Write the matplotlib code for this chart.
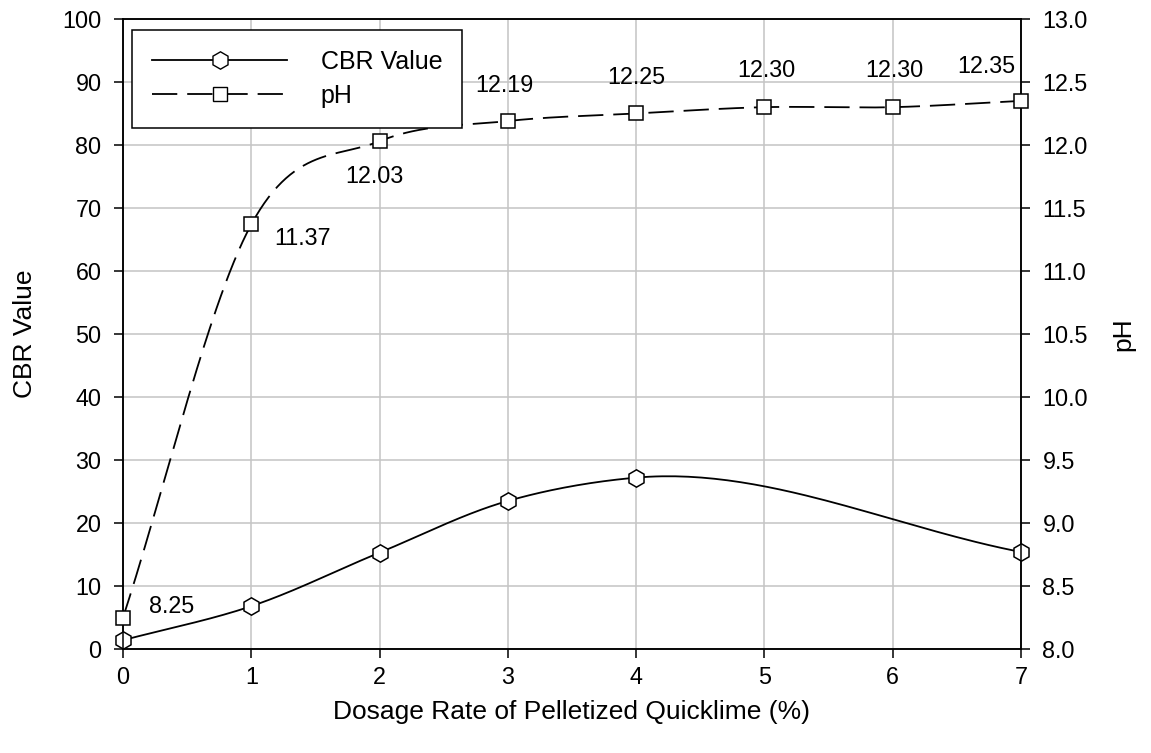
import numpy as np
import matplotlib.pyplot as plt
from matplotlib.lines import Line2D

plt.rcParams['font.family'] = ['Liberation Sans', 'DejaVu Sans']

dosage = [0, 1, 2, 3, 4, 5, 6, 7]
cbr_dosage = [0, 1, 2, 3, 4, 7]
cbr_value = [1.4, 6.8, 15.3, 23.5, 27.2, 15.4]
ph_value = [8.25, 11.37, 12.03, 12.19, 12.25, 12.30, 12.30, 12.35]
ph_text = ["8.25", "11.37", "12.03", "12.19", "12.25", "12.30", "12.30", "12.35"]


def smooth(ax, knot_ax, x, y, n=60):
    # chord-length catmull-rom; knots measured on the primary axis scale
    pts = ax.transData.transform(np.column_stack([x, y]))
    kp = knot_ax.transData.transform(np.column_stack([x, y]))
    p = np.vstack([2 * pts[0] - pts[1], pts, 2 * pts[-1] - pts[-2]])
    k = np.vstack([2 * kp[0] - kp[1], kp, 2 * kp[-1] - kp[-2]])
    knots = np.concatenate([[0], np.cumsum(np.linalg.norm(np.diff(k, axis=0), axis=1))])
    out = []
    for i in range(1, len(p) - 2):
        p0, p1, p2, p3 = p[i - 1], p[i], p[i + 1], p[i + 2]
        t0, t1, t2, t3 = knots[i - 1], knots[i], knots[i + 1], knots[i + 2]
        t = np.linspace(t1, t2, n)[:, None]
        a1 = (t1 - t) / (t1 - t0) * p0 + (t - t0) / (t1 - t0) * p1
        a2 = (t2 - t) / (t2 - t1) * p1 + (t - t1) / (t2 - t1) * p2
        a3 = (t3 - t) / (t3 - t2) * p2 + (t - t2) / (t3 - t2) * p3
        b1 = (t2 - t) / (t2 - t0) * a1 + (t - t0) / (t2 - t0) * a2
        b2 = (t3 - t) / (t3 - t1) * a2 + (t - t1) / (t3 - t1) * a3
        out.append((t2 - t) / (t2 - t1) * b1 + (t - t1) / (t2 - t1) * b2)
    xy = ax.transData.inverted().transform(np.vstack(out))
    return xy[:, 0], xy[:, 1]


fig, ax = plt.subplots(figsize=(11.51, 7.53), dpi=100)
fig.subplots_adjust(left=0.1069, right=0.887, top=0.9748, bottom=0.1381)
ax2 = ax.twinx()

ax.set_xlim(0, 7)
ax.set_ylim(0, 100)
ax2.set_ylim(8, 13)
ax.set_xticks(dosage)
ax.set_yticks(range(0, 101, 10))
ax2.set_yticks(np.arange(8, 13.01, 0.5))
ax2.set_yticklabels([f"{v:.1f}" for v in np.arange(8, 13.01, 0.5)])

ax.set_axisbelow(True)
ax.grid(True, color='#c4c4c4', lw=1.1)

for a in (ax, ax2):
    a.tick_params(direction='out', length=6.5, width=1.1, labelsize=16.8, pad=9)
    for s in a.spines.values():
        s.set_linewidth(1.1)
ax.tick_params(axis='x', pad=6)

sx, sy = smooth(ax, ax, cbr_dosage, cbr_value)
ax.plot(sx, sy, color='black', lw=1.3)
ax.plot(cbr_dosage, cbr_value, linestyle='none', marker='h', ms=12.5,
        mfc='white', mec='black', mew=1.1, clip_on=False, zorder=5)

px, py = smooth(ax2, ax, dosage, ph_value)
ax2.plot(px, py, color='black', lw=1.3, dashes=(14, 5.5))
ax2.plot(dosage, ph_value, linestyle='none', marker='s', ms=10,
         mfc='white', mec='black', mew=1.1, clip_on=False, zorder=5)

offsets = [(26, 11, 'left'), (23, -14, 'left'), (-5, -35, 'center'),
           (-3, 36, 'center'), (0, 36, 'center'), (2, 37, 'center'),
           (2, 37, 'center'), (-35, 34, 'center')]
for xv, yv, txt, (dx, dy, ha) in zip(dosage, ph_value, ph_text, offsets):
    ax2.annotate(txt, (xv, yv), xytext=(dx, dy), textcoords='offset pixels',
                 ha=ha, va='center', fontsize=16.8)

ax.set_xlabel('Dosage Rate of Pelletized Quicklime (%)', fontsize=19, labelpad=8)
ax.set_ylabel('CBR Value', fontsize=19, labelpad=18)
ax2.set_ylabel('pH', fontsize=19, labelpad=17)

handles = [
    Line2D([], [], color='black', lw=1.3, marker='h', ms=12.5, mfc='white', mec='black'),
    Line2D([], [], color='black', lw=1.3, dashes=(14, 5.5), marker='s', ms=10,
           mfc='white', mec='black'),
]
leg = ax2.legend(handles, ['CBR Value', 'pH'], loc='upper left',
                 bbox_to_anchor=(0.010, 0.9825), borderaxespad=0, fontsize=18,
                 handlelength=5.4, handletextpad=1.35, labelspacing=0.38,
                 borderpad=0.8, fancybox=False, framealpha=1, edgecolor='black')
leg.get_frame().set_linewidth(1.1)

fig.savefig('out.png', dpi=100)
